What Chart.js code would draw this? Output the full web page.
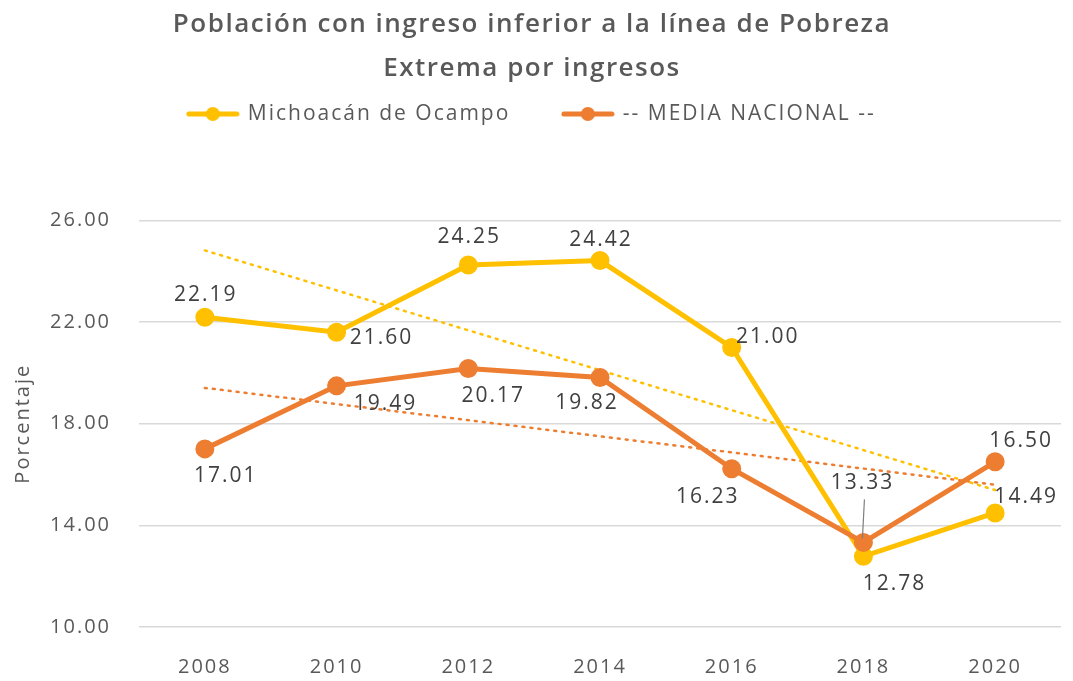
<!DOCTYPE html>
<html>
<head>
<meta charset="utf-8">
<script src="https://cdn.jsdelivr.net/npm/chart.js@4.4.1/dist/chart.umd.min.js"></script>
<style>
  html, body { margin: 0; padding: 0; background: #fff; }
  #wrap { width: 1073px; height: 681px; }
</style>
</head>
<body>
<div id="wrap"><canvas id="chart"></canvas></div>
<script>
// data
const years = ['2008', '2010', '2012', '2014', '2016', '2018', '2020'];
const michoacan = [22.19, 21.60, 24.25, 24.42, 21.00, 12.78, 14.49];
const mediaNacional = [17.01, 19.49, 20.17, 19.82, 16.23, 13.33, 16.50];
const trendMichoacan = [24.82, null, null, null, null, null, 15.39];
const trendMedia = [19.41, null, null, null, null, null, 15.60];
const yTicks = [10, 14, 18, 22, 26];

const YELLOW = '#FFC000';
const ORANGE = '#ED7D31';
const TEXT = '#595959';
const FONT = '"Open Sans", sans-serif';

// label placement around each point (dx, dy in px)
const offsetsMich = [[0, -22], [44, 6], [0, -28], [0, -21], [35, -10], [30, 28], [30, -16]];
const offsetsMedia = [[20, 27], [48, 18], [24, 27], [-14, 26], [-25, 28], [-2, -59], [25, -21]];

function legendMarker(color) {
    const c = document.createElement('canvas');
    c.width = 54;
    c.height = 16;
    const g = c.getContext('2d');
    g.strokeStyle = color;
    g.lineWidth = 5;
    g.lineCap = 'round';
    g.beginPath();
    g.moveTo(3, 8);
    g.lineTo(51, 8);
    g.stroke();
    g.fillStyle = color;
    g.beginPath();
    g.arc(27, 8, 7, 0, Math.PI * 2);
    g.fill();
    return c;
}

// the reference font is wide, so space the letters out a bit
const spacing = {
    id: 'spacing',
    beforeUpdate(chart) { chart.ctx.letterSpacing = '2px'; },
    beforeDraw(chart) { chart.ctx.letterSpacing = '2px'; }
};

const legendGap = {
    id: 'legendGap',
    beforeInit(chart) {
        const fit = chart.legend.fit;
        chart.legend.fit = function () {
            fit.call(this);
            this.height += 86;
        };
        // title gets a bit less spacing than the rest
        const draw = chart.titleBlock.draw;
        chart.titleBlock.draw = function () {
            const old = this.ctx.letterSpacing;
            this.ctx.letterSpacing = '1.5px';
            draw.call(this);
            this.ctx.letterSpacing = old;
        };
    }
};

const pointLabels = {
    id: 'pointLabels',
    afterDatasetsDraw(chart) {
        const ctx = chart.ctx;
        ctx.save();
        ctx.font = '21px ' + FONT;
        ctx.fillStyle = '#404040';
        ctx.textAlign = 'center';
        ctx.textBaseline = 'middle';
        chart.data.datasets.forEach((ds, i) => {
            if (!ds.labelOffsets) return;
            const meta = chart.getDatasetMeta(i);
            meta.data.forEach((pt, j) => {
                const [dx, dy] = ds.labelOffsets[j];
                ctx.fillText(ds.data[j].toFixed(2), pt.x + dx + 1, pt.y + dy);
                if (ds.leader === j) {
                    ctx.strokeStyle = '#7f7f7f';
                    ctx.lineWidth = 1.2;
                    ctx.beginPath();
                    ctx.moveTo(pt.x + 1, pt.y + dy + 16);
                    ctx.lineTo(pt.x - 1, pt.y - 4);
                    ctx.stroke();
                }
            });
        });
        ctx.restore();
    }
};

new Chart(document.getElementById('chart'), {
    type: 'line',
    data: {
        labels: years,
        datasets: [
            {
                label: 'Michoacán de Ocampo',
                data: michoacan,
                borderColor: YELLOW,
                backgroundColor: YELLOW,
                borderWidth: 5,
                pointRadius: 7,
                pointHoverRadius: 7,
                legendMarker: legendMarker(YELLOW),
                labelOffsets: offsetsMich,
                order: 1
            },
            {
                label: '-- MEDIA NACIONAL --',
                data: mediaNacional,
                borderColor: ORANGE,
                backgroundColor: ORANGE,
                borderWidth: 5,
                pointRadius: 7,
                pointHoverRadius: 7,
                legendMarker: legendMarker(ORANGE),
                labelOffsets: offsetsMedia,
                leader: 5,
                order: 0
            },
            {
                label: 'trend1',
                data: trendMichoacan,
                borderColor: YELLOW,
                borderWidth: 2.5,
                borderDash: [2, 6],
                borderCapStyle: 'round',
                pointRadius: 0,
                spanGaps: true,
                order: 2
            },
            {
                label: 'trend2',
                data: trendMedia,
                borderColor: ORANGE,
                borderWidth: 2.5,
                borderDash: [2, 6],
                borderCapStyle: 'round',
                pointRadius: 0,
                spanGaps: true,
                order: 3
            }
        ]
    },
    options: {
        responsive: true,
        maintainAspectRatio: false,
        animation: false,
        layout: { padding: { left: 0, right: 9, top: 0, bottom: 3 } },
        plugins: {
            title: {
                display: true,
                text: ['Población con ingreso inferior a la línea de Pobreza', 'Extrema por ingresos'],
                color: TEXT,
                font: { family: FONT, size: 26, weight: '600', lineHeight: 1.72 },
                padding: { top: 2, bottom: -41 }
            },
            legend: {
                labels: {
                    color: TEXT,
                    font: { family: FONT, size: 21 },
                    usePointStyle: true,
                    pointStyleWidth: 49,
                    padding: 53,
                    filter: item => !item.text.startsWith('trend'),
                    generateLabels(chart) {
                        return chart.data.datasets.map((ds, i) => ({
                            text: ds.label,
                            datasetIndex: i,
                            fontColor: TEXT,
                            pointStyle: ds.legendMarker || 'line',
                            strokeStyle: ds.borderColor,
                            fillStyle: ds.borderColor,
                            lineWidth: 0,
                            hidden: false
                        }));
                    }
                }
            },
            tooltip: { enabled: false }
        },
        scales: {
            x: {
                offset: true,
                grid: { display: false, drawTicks: false },
                border: { display: false },
                ticks: { color: TEXT, font: { family: FONT, size: 20 }, padding: 28 },
                afterFit: s => { s.height = 51; }
            },
            y: {
                min: 10,
                max: 26,
                afterBuildTicks: scale => { scale.ticks = yTicks.map(v => ({ value: v })); },
                grid: { color: '#d9d9d9', lineWidth: 1.5, drawTicks: false },
                border: { display: false },
                ticks: {
                    color: TEXT,
                    font: { family: FONT, size: 20 },
                    padding: 28,
                    callback: v => v.toFixed(2)
                },
                title: {
                    display: true,
                    text: 'Porcentaje',
                    color: TEXT,
                    font: { family: FONT, size: 20 },
                    padding: { top: 11, bottom: 4 }
                },
                afterFit: s => { s.width = 139; }
            }
        }
    },
    plugins: [spacing, legendGap, pointLabels]
});
</script>
</body>
</html>
